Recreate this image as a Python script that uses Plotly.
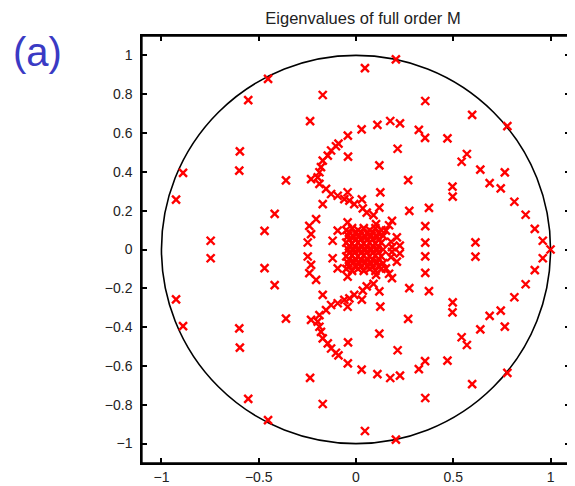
import plotly.graph_objects as go

# Eigenvalues (upper half-plane)
upper_re = [-0.452, -0.554, -0.171, -0.236, 0.046, 0.205, 0.356, 0.597, 0.778,
            -0.597, -0.600, -0.889, -0.925, -0.360, -0.418, -0.470, -0.747,
            -0.042, 0.029, 0.110, 0.176, 0.226, 0.323, 0.355, 0.470, 0.570, 0.543,
            0.639, 0.765, 0.687, 0.744, 0.814, 0.872, 0.919, 0.960,
            0.214, -0.041, 0.120, 0.268, 0.496, 0.497, 0.125, 0.120, 0.274, 0.375,
            0.185, 0.356, 0.356, 0.614,
            -0.090, -0.103, -0.128, -0.145, -0.171, -0.180, -0.188, -0.197, -0.231,
            -0.188, -0.154, -0.128, -0.094, -0.060, -0.034, -0.009, -0.043, -0.171,
            -0.205, -0.240, -0.231, -0.248, -0.120, -0.094, -0.043,
            0.030, 0.035, 0.055, 0.090, 0.103, 0.154, 0.210, 0.180, 0.225, 0.170, 0.185,
            -0.05, -0.02, 0.01, 0.04, 0.07, 0.10, 0.13,
            -0.04, -0.01, 0.02, 0.05, 0.08, 0.11, 0.14,
            -0.05, -0.02, 0.01, 0.04, 0.07, 0.10, 0.13,
            -0.035, -0.005, 0.025, 0.055, 0.085, 0.115,
            -0.035, -0.005, 0.025, 0.055, 0.085, 0.115,
            -0.035, -0.005, 0.025, 0.055, 0.085, 0.115]
upper_im = [0.879, 0.770, 0.796, 0.661, 0.935, 0.980, 0.765, 0.694, 0.636,
            0.506, 0.406, 0.395, 0.257, 0.356, 0.184, 0.096, 0.045,
            0.587, 0.619, 0.642, 0.662, 0.650, 0.616, 0.575, 0.573, 0.492, 0.452,
            0.412, 0.397, 0.342, 0.315, 0.246, 0.179, 0.106, 0.045,
            0.519, 0.478, 0.433, 0.357, 0.324, 0.272, 0.294, 0.216, 0.199, 0.214,
            0.147, 0.120, 0.035, 0.037,
            0.545, 0.532, 0.510, 0.484, 0.458, 0.424, 0.398, 0.372, 0.363,
            0.338, 0.312, 0.286, 0.277, 0.260, 0.252, 0.234, 0.295, 0.234,
            0.157, 0.122, 0.079, 0.036, 0.045, 0.097, 0.140,
            0.258, 0.212, 0.190, 0.177, 0.131, 0.097, 0.062, 0.040, 0.020, 0.125, 0.012,
            0.10, 0.11, 0.10, 0.11, 0.10, 0.11, 0.10,
            0.07, 0.065, 0.07, 0.065, 0.07, 0.065, 0.07,
            0.035, 0.03, 0.035, 0.03, 0.035, 0.03, 0.035,
            0.088, 0.085, 0.088, 0.085, 0.088, 0.085,
            0.052, 0.05, 0.052, 0.05, 0.052, 0.05,
            0.017, 0.015, 0.017, 0.015, 0.017, 0.015]

# Conjugate partners (lower half-plane)
lower_re = [-0.452, -0.554, -0.171, -0.236, 0.046, 0.205, 0.356, 0.597, 0.778,
            -0.597, -0.600, -0.889, -0.925, -0.360, -0.418, -0.470, -0.747,
            -0.042, 0.029, 0.110, 0.176, 0.226, 0.323, 0.355, 0.470, 0.570, 0.543,
            0.639, 0.765, 0.687, 0.744, 0.814, 0.872, 0.919, 0.960,
            0.214, -0.041, 0.120, 0.268, 0.496, 0.497, 0.125, 0.120, 0.274, 0.375,
            0.185, 0.356, 0.356, 0.614,
            -0.090, -0.103, -0.128, -0.145, -0.171, -0.180, -0.188, -0.197, -0.231,
            -0.188, -0.154, -0.128, -0.094, -0.060, -0.034, -0.009, -0.043, -0.171,
            -0.205, -0.240, -0.231, -0.248, -0.120, -0.094, -0.043,
            0.030, 0.035, 0.055, 0.090, 0.103, 0.154, 0.210, 0.180, 0.225, 0.170, 0.185,
            -0.05, -0.02, 0.01, 0.04, 0.07, 0.10, 0.13,
            -0.04, -0.01, 0.02, 0.05, 0.08, 0.11, 0.14,
            -0.05, -0.02, 0.01, 0.04, 0.07, 0.10, 0.13,
            -0.035, -0.005, 0.025, 0.055, 0.085, 0.115,
            -0.035, -0.005, 0.025, 0.055, 0.085, 0.115,
            -0.035, -0.005, 0.025, 0.055, 0.085, 0.115]
lower_im = [-0.879, -0.770, -0.796, -0.661, -0.935, -0.980, -0.765, -0.694, -0.636,
            -0.506, -0.406, -0.395, -0.257, -0.356, -0.184, -0.096, -0.045,
            -0.587, -0.619, -0.642, -0.662, -0.650, -0.616, -0.575, -0.573, -0.492, -0.452,
            -0.412, -0.397, -0.342, -0.315, -0.246, -0.179, -0.106, -0.045,
            -0.519, -0.478, -0.433, -0.357, -0.324, -0.272, -0.294, -0.216, -0.199, -0.214,
            -0.147, -0.120, -0.035, -0.037,
            -0.545, -0.532, -0.510, -0.484, -0.458, -0.424, -0.398, -0.372, -0.363,
            -0.338, -0.312, -0.286, -0.277, -0.260, -0.252, -0.234, -0.295, -0.234,
            -0.157, -0.122, -0.079, -0.036, -0.045, -0.097, -0.140,
            -0.258, -0.212, -0.190, -0.177, -0.131, -0.097, -0.062, -0.040, -0.020, -0.125, -0.012,
            -0.10, -0.11, -0.10, -0.11, -0.10, -0.11, -0.10,
            -0.07, -0.065, -0.07, -0.065, -0.07, -0.065, -0.07,
            -0.035, -0.03, -0.035, -0.03, -0.035, -0.03, -0.035,
            -0.088, -0.085, -0.088, -0.085, -0.088, -0.085,
            -0.052, -0.05, -0.052, -0.05, -0.052, -0.05,
            -0.017, -0.015, -0.017, -0.015, -0.017, -0.015]

# Real eigenvalues
real_re = [1.0, -0.04, -0.01, 0.02, 0.05, 0.08, 0.11, 0.14]
real_im = [0.0, 0.0, 0.0, 0.0, 0.0, 0.0, 0.0, 0.0]

x_ticks = [-1, -0.5, 0, 0.5, 1]
x_labels = ["\u22121", "\u22120.5", "0", "0.5", "1"]
y_ticks = [-1, -0.8, -0.6, -0.4, -0.2, 0, 0.2, 0.4, 0.6, 0.8, 1]
y_labels = ["\u22121", "\u22120.8", "\u22120.6", "\u22120.4", "\u22120.2", "0",
            "0.2", "0.4", "0.6", "0.8", "1"]

title_text = "Eigenvalues of full order M"
panel_label = "(a)"

# plot area in figure pixels (page is offset by the 8px body margin)
L, T, W, H = 134, 28, 428, 427
FIG_W, FIG_H = 575, 486

fig = go.Figure()
marker = dict(symbol="x-thin", size=8, color="red", line=dict(color="red", width=2.4))
for xs, ys in [(upper_re, upper_im), (lower_re, lower_im), (real_re, real_im)]:
    fig.add_trace(go.Scatter(x=xs, y=ys, mode="markers", marker=marker,
                             showlegend=False, hoverinfo="x+y"))

# unit circle
fig.add_shape(type="circle", xref="x", yref="y", x0=-1, y0=-1, x1=1, y1=1,
              line=dict(color="black", width=1.6), layer="below")
# axes box
fig.add_shape(type="rect", xref="paper", yref="paper", x0=0, y0=0, x1=1, y1=1,
              line=dict(color="black", width=1.3), layer="above")

axis_common = dict(showgrid=False, zeroline=False, showline=True, linecolor="black",
                   linewidth=1.5, mirror="ticks", ticks="inside", ticklen=5,
                   tickcolor="black", tickwidth=1.5,
                   tickfont=dict(size=14, color="#222222"))
fig.update_xaxes(range=[-1.1, 1.1], tickvals=x_ticks, ticktext=x_labels, **axis_common)
fig.update_yaxes(range=[-1.1, 1.1], tickvals=y_ticks, ticktext=y_labels,
                 ticklabelstandoff=5, **axis_common)

fig.update_layout(
    width=FIG_W, height=FIG_H,
    margin=dict(l=L, r=FIG_W - L - W, t=T, b=FIG_H - T - H, autoexpand=False),
    paper_bgcolor="white", plot_bgcolor="white",
    font=dict(family="Liberation Sans, Arial, sans-serif", color="#222222"),
    title=dict(text=title_text, x=355 / FIG_W, xref="container", xanchor="center",
               y=1 - 10 / FIG_H, yref="container", yanchor="middle",
               font=dict(size=16.5, color="#222222")),
    annotations=[dict(text=panel_label, x=(29 - L) / W, y=(T + H - 44) / H,
                      xref="paper", yref="paper", xanchor="center", yanchor="middle",
                      showarrow=False, font=dict(size=40, color="#3a3ac4"))],
)

fig.write_html("out.html")
